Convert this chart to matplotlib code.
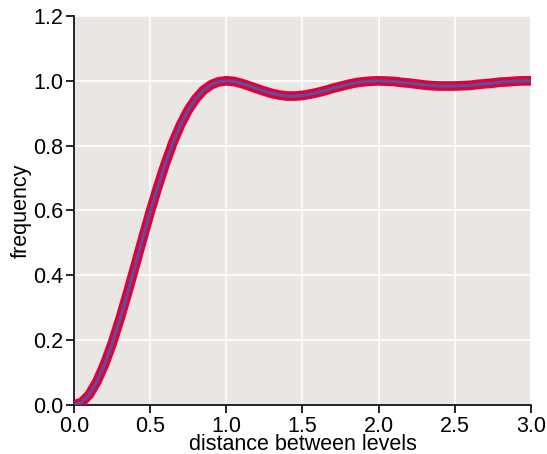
import matplotlib
matplotlib.use('Agg')
import matplotlib.pyplot as plt

plt.rcParams['font.family'] = ['Liberation Sans', 'DejaVu Sans']

# distance between levels and frequency
dist = [0.00, 0.05, 0.10, 0.15, 0.20, 0.25, 0.30, 0.35, 0.40, 0.45,
        0.50, 0.55, 0.60, 0.65, 0.70, 0.75, 0.80, 0.85, 0.90, 0.95,
        1.00, 1.05, 1.10, 1.15, 1.20, 1.25, 1.30, 1.35, 1.40, 1.45,
        1.50, 1.55, 1.60, 1.65, 1.70, 1.75, 1.80, 1.85, 1.90, 1.95,
        2.00, 2.05, 2.10, 2.15, 2.20, 2.25, 2.30, 2.35, 2.40, 2.45,
        2.50, 2.55, 2.60, 2.65, 2.70, 2.75, 2.80, 2.85, 2.90, 2.95, 3.00]
freq = [0.000, 0.008, 0.032, 0.072, 0.125, 0.189, 0.263, 0.343, 0.427, 0.512,
        0.595, 0.673, 0.745, 0.810, 0.865, 0.910, 0.945, 0.971, 0.988, 0.997,
        1.000, 0.998, 0.992, 0.984, 0.976, 0.968, 0.961, 0.956, 0.953, 0.953,
        0.955, 0.959, 0.964, 0.970, 0.977, 0.983, 0.989, 0.994, 0.997, 0.999,
        1.000, 0.999, 0.998, 0.995, 0.993, 0.990, 0.987, 0.985, 0.984, 0.984,
        0.984, 0.985, 0.986, 0.989, 0.991, 0.993, 0.996, 0.997, 0.999, 1.000, 1.000]

xticks = [0.0, 0.5, 1.0, 1.5, 2.0, 2.5, 3.0]
yticks = [0.0, 0.2, 0.4, 0.6, 0.8, 1.0, 1.2]

fig = plt.figure(figsize=(5.47, 4.54), dpi=100)
ax = fig.add_axes([0.1353, 0.1079, 0.8354, 0.8569])
ax.set_facecolor('#EAE6E3')

ax.plot(dist, freq, color='#E0003A', lw=7, solid_capstyle='round', zorder=3)
ax.plot(dist, freq, color='#5A50A0', lw=2.2, zorder=4)

ax.set_xlim(0, 3)
ax.set_ylim(0, 1.2)
ax.set_xticks(xticks)
ax.set_yticks(yticks)
ax.set_xticklabels([f'{t:.1f}' for t in xticks])
ax.set_yticklabels([f'{t:.1f}' for t in yticks])
ax.grid(True, color='white', lw=1.2)
ax.set_axisbelow(True)

for s in ['top', 'right']:
    ax.spines[s].set_visible(False)
for s in ['left', 'bottom']:
    ax.spines[s].set_linewidth(1.2)
    ax.spines[s].set_color('black')

ax.tick_params(length=6, width=1.2, labelsize=15.5, pad=2, color='black')
ax.set_xlabel('distance between levels', fontsize=15.5, labelpad=-2)
ax.set_ylabel('frequency', fontsize=15.5, labelpad=1)

fig.savefig('out.png', dpi=100)
